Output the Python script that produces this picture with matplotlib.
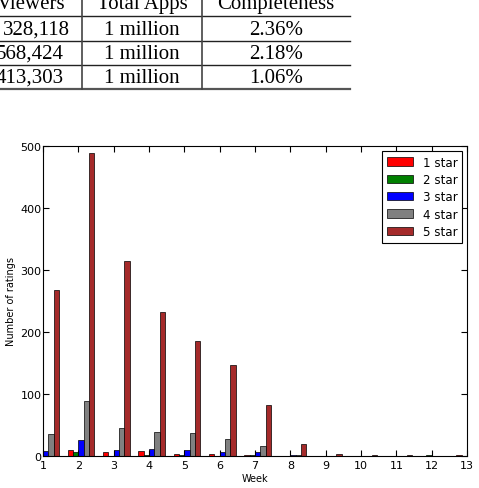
import matplotlib
matplotlib.use('Agg')
import matplotlib.pyplot as plt
import numpy as np

# table fragment above the chart (cropped from the page)
tbl_header = ['Viewers', 'Total Apps', 'Completeness']
tbl_viewers = ['328,118', '568,424', '413,303']
tbl_apps = ['1 million', '1 million', '1 million']
tbl_complete = ['2.36%', '2.18%', '1.06%']

# ratings per week
weeks = np.arange(1, 14)
labels = ['1 star', '2 star', '3 star', '4 star', '5 star']
star1 = [0, 9, 6, 8, 3, 4, 1, 0, 0, 0, 0, 0, 1]
star2 = [0, 6, 0, 1, 1, 0, 1, 0, 0, 0, 0, 1, 0]
star3 = [8, 26, 10, 11, 10, 7, 6, 1, 0, 0, 0, 0, 0]
star4 = [36, 88, 45, 38, 37, 27, 16, 1, 0, 0, 0, 0, 0]
star5 = [268, 488, 314, 232, 186, 147, 83, 19, 3, 2, 1, 0, 0]
colors = ['red', 'green', 'blue', 'gray', 'brown']

W, H = 479, 489
fig = plt.figure(figsize=(W / 100, H / 100), dpi=100)

# overlay in pixel coordinates for the table
ov = fig.add_axes([0, 0, 1, 1])
ov.set_xlim(0, W)
ov.set_ylim(H, 0)
ov.axis('off')
serif = {'family': 'Liberation Serif', 'size': 15}
for y in [17, 42, 66]:
    ov.plot([0, 350], [y, y], color='#222222', lw=1.0)
ov.plot([0, 350], [90, 90], color='#555555', lw=1.6)
for x in [82, 202]:
    ov.plot([x, x], [0, 90], color='#444444', lw=1.2)
ov.text(65, 9, tbl_header[0], ha='right', va='baseline', **serif)
ov.text(142, 9, tbl_header[1], ha='center', va='baseline', **serif)
ov.text(276, 9, tbl_header[2], ha='center', va='baseline', **serif)
rights = [70, 64, 64]
for i, yb in enumerate([35, 59, 83]):
    ov.text(rights[i], yb, tbl_viewers[i], ha='right', va='baseline', **serif)
    ov.text(142, yb, tbl_apps[i], ha='center', va='baseline', **serif)
    ov.text(276, yb, tbl_complete[i], ha='center', va='baseline', **serif)

# chart
ax = fig.add_axes([43 / W, 1 - 457 / H, (467 - 43) / W, (457 - 147) / H])
w = 0.15
for i, vals in enumerate([star1, star2, star3, star4, star5]):
    ax.bar(weeks + (i - 2) * w, vals, w, align='edge', color=colors[i],
           edgecolor='black', linewidth=0.5, label=labels[i])
ax.set_xlim(1, 13)
ax.set_ylim(0, 500)
ax.set_xticks(range(1, 14))
ax.set_yticks(range(0, 501, 100))
ax.tick_params(direction='in', top=True, right=True, length=4, labelsize=8)
ax.tick_params(axis='x', pad=3)
ax.tick_params(axis='y', pad=1)
ax.set_xlabel('Week', fontsize=7, labelpad=2)
ax.set_ylabel('Number of ratings', fontsize=7, labelpad=3)
leg = ax.legend(loc='upper right', fontsize=8.6, fancybox=False, framealpha=1,
                edgecolor='black', handlelength=2.2, labelspacing=0.37,
                handletextpad=0.8, borderaxespad=0.4)
leg.get_frame().set_linewidth(0.8)

fig.savefig('out.png', dpi=100)
